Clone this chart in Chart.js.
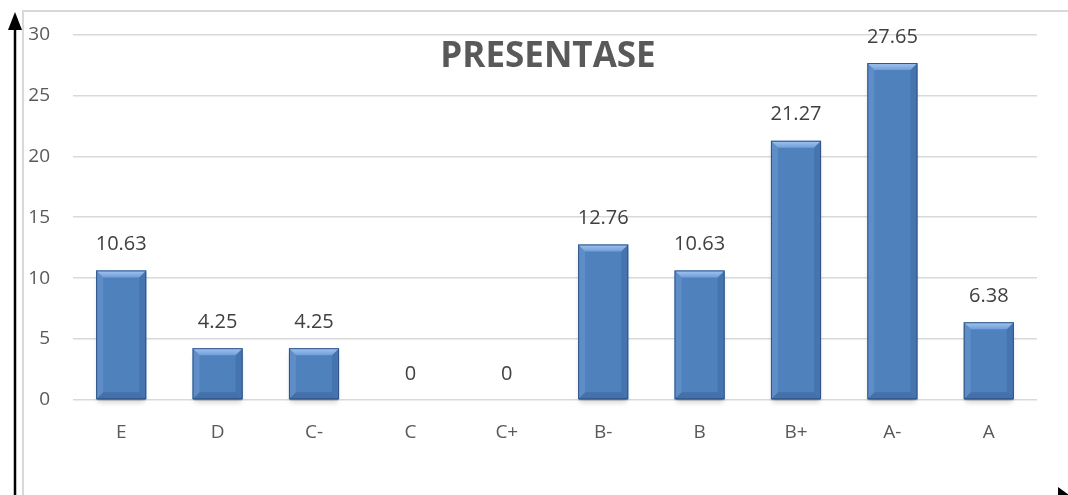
<!DOCTYPE html>
<html>
<head>
<meta charset="utf-8">
<script src="https://cdn.jsdelivr.net/npm/chart.js@4.4.0/dist/chart.umd.min.js"></script>
<style>
  html, body { margin: 0; padding: 0; background: #fff; }
  #wrap { width: 1068px; height: 495px; position: relative; }
</style>
</head>
<body>
<div id="wrap"><canvas id="myChart"></canvas></div>
<script>
const categories = ['E', 'D', 'C-', 'C', 'C+', 'B-', 'B', 'B+', 'A-', 'A'];
const presentase = [10.63, 4.25, 4.25, 0, 0, 12.76, 10.63, 21.27, 27.65, 6.38];
const yTicks = [0, 5, 10, 15, 20, 25, 30];
const chartTitle = 'PRESENTASE';

const txtColor = '#595959';
const fontFam = '"Open Sans", "Liberation Sans", sans-serif';

// frame, arrows, title
const decorPlugin = {
  id: 'decor',
  beforeDraw(chart) {
    const c = chart.ctx;
    c.save();
    c.strokeStyle = '#d9d9d9';
    c.lineWidth = 2;
    c.strokeRect(23, 11, 1100, 600);
    c.restore();
  },
  afterDraw(chart) {
    const c = chart.ctx;
    c.save();
    c.fillStyle = '#000';
    c.strokeStyle = '#000';
    c.lineWidth = 2.5;
    c.beginPath();
    c.moveTo(15, 26);
    c.lineTo(15, 500);
    c.stroke();
    c.beginPath();
    c.moveTo(15, 12);
    c.lineTo(8, 30);
    c.lineTo(22, 30);
    c.closePath();
    c.fill();
    c.beginPath();
    c.moveTo(1072, 497);
    c.lineTo(1058, 487);
    c.lineTo(1058, 507);
    c.closePath();
    c.fill();

    c.fillStyle = txtColor;
    c.font = 'bold 35px ' + fontFam;
    c.textAlign = 'center';
    c.textBaseline = 'middle';
    c.fillText(chartTitle, 548, 57);
    c.restore();
  }
};

// shadow under bars, bevel on top
const bevelPlugin = {
  id: 'bevel',
  beforeDatasetsDraw(chart) {
    const c = chart.ctx;
    const meta = chart.getDatasetMeta(0);
    c.save();
    meta.data.forEach((bar, i) => {
      if (!presentase[i]) return;
      const w = bar.width;
      const l = bar.x - w / 2;
      c.shadowColor = 'rgba(0,0,0,0.5)';
      c.shadowBlur = 5;
      c.shadowOffsetY = 3;
      c.fillStyle = 'rgba(0,0,0,0.35)';
      c.fillRect(l + 1, bar.y + 2, w - 2, bar.base - bar.y - 1);
    });
    c.restore();
  },
  afterDatasetsDraw(chart) {
    const c = chart.ctx;
    const meta = chart.getDatasetMeta(0);
    c.save();
    meta.data.forEach((bar, i) => {
      if (!presentase[i]) return;
      const w = bar.width;
      const l = bar.x - w / 2, r = bar.x + w / 2;
      const t = bar.y, b = bar.base;
      const d = Math.min(7, (b - t) / 3);
      // top bevel
      const gt = c.createLinearGradient(0, t, 0, t + d);
      gt.addColorStop(0, '#a6c6ee');
      gt.addColorStop(1, '#6f9edb');
      c.fillStyle = gt;
      c.beginPath();
      c.moveTo(l, t); c.lineTo(r, t); c.lineTo(r - d, t + d); c.lineTo(l + d, t + d);
      c.closePath(); c.fill();
      // left bevel
      c.fillStyle = 'rgba(140,180,230,0.25)';
      c.beginPath();
      c.moveTo(l, t); c.lineTo(l + d, t + d); c.lineTo(l + d, b - d); c.lineTo(l, b);
      c.closePath(); c.fill();
      // right bevel
      c.fillStyle = 'rgba(30,60,110,0.18)';
      c.beginPath();
      c.moveTo(r, t); c.lineTo(r - d, t + d); c.lineTo(r - d, b - d); c.lineTo(r, b);
      c.closePath(); c.fill();
      // bottom bevel
      c.fillStyle = 'rgba(25,50,95,0.2)';
      c.beginPath();
      c.moveTo(l, b); c.lineTo(l + d, b - d); c.lineTo(r - d, b - d); c.lineTo(r, b);
      c.closePath(); c.fill();
      c.strokeStyle = '#2f5587';
      c.lineWidth = 1;
      c.strokeRect(l + 0.5, t + 0.5, w - 1, b - t - 1);
    });
    // value labels
    c.fillStyle = '#404040';
    c.font = '20px ' + fontFam;
    c.textAlign = 'center';
    c.textBaseline = 'middle';
    meta.data.forEach((bar, i) => {
      c.fillText(String(presentase[i]), bar.x, bar.y - 26);
    });
    c.restore();
  }
};

function barFill(ctx) {
  const chart = ctx.chart;
  const bar = chart.getDatasetMeta(0).data[ctx.dataIndex];
  if (!bar || !bar.width) return '#4f81bd';
  const l = bar.x - bar.width / 2, r = bar.x + bar.width / 2;
  const g = chart.ctx.createLinearGradient(l, 0, r, 0);
  g.addColorStop(0, '#4a7ec4');
  g.addColorStop(0.5, '#5a8fd3');
  g.addColorStop(1, '#4677bb');
  return g;
}

const ctx = document.getElementById('myChart');
const myChart = new Chart(ctx, {
  type: 'bar',
  data: {
    labels: categories,
    datasets: [{
      data: presentase,
      backgroundColor: barFill,
      borderWidth: 0,
      barPercentage: 0.52,
      categoryPercentage: 1
    }]
  },
  options: {
    responsive: true,
    maintainAspectRatio: false,
    animation: false,
    layout: { padding: { top: 32, right: 31, left: 0, bottom: 0 } },
    plugins: {
      legend: { display: false },
      tooltip: { enabled: false }
    },
    scales: {
      x: {
        grid: { display: false, drawTicks: false },
        border: { display: false },
        ticks: {
          color: txtColor,
          padding: 21,
          font: { size: 19, family: fontFam }
        },
        afterFit(scale) { scale.height = 95; }
      },
      y: {
        min: 0,
        max: 30,
        afterBuildTicks(scale) { scale.ticks = yTicks.map(v => ({ value: v })); },
        grid: { color: '#d9d9d9', lineWidth: 1.5, drawTicks: false },
        border: { display: false },
        ticks: {
          color: txtColor,
          padding: 23,
          font: { size: 19, family: fontFam }
        },
        afterFit(scale) { scale.width = 73; }
      }
    }
  },
  plugins: [decorPlugin, bevelPlugin]
});
</script>
</body>
</html>
